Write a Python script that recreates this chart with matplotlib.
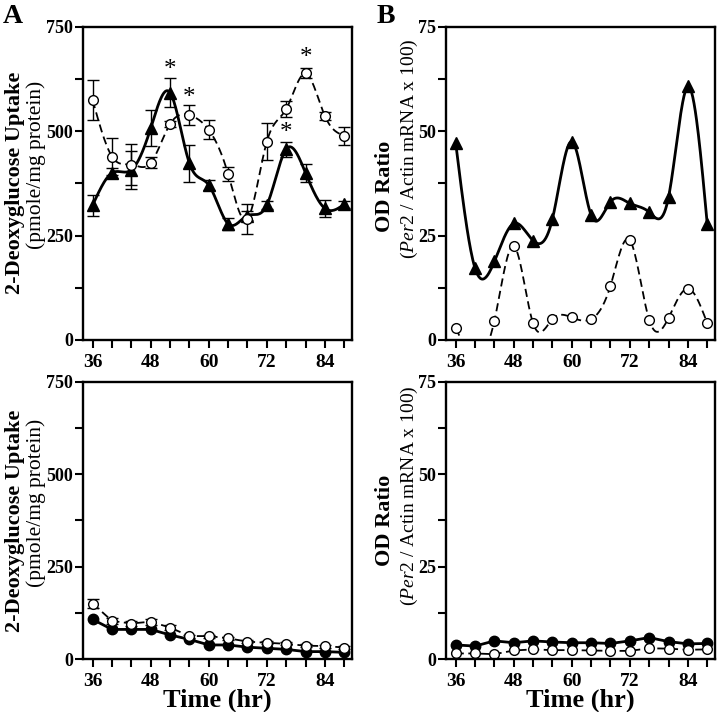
import numpy as np
import matplotlib
matplotlib.use("Agg")
import matplotlib.pyplot as plt

plt.rcParams["font.family"] = "Liberation Serif"
plt.rcParams["mathtext.fontset"] = "custom"
plt.rcParams["mathtext.rm"] = "Liberation Serif"
plt.rcParams["mathtext.it"] = "Liberation Serif:italic"

# ---- data ----
hours = [36, 40, 44, 48, 52, 56, 60, 64, 68, 72, 76, 80, 84, 88]

# panel A top: 2-DG uptake
a_tri = [323, 400, 407, 507, 592, 423, 371, 278, 298, 323, 457, 400, 315, 325]
a_tri_err = [25, 12, 45, 43, 35, 45, 12, 15, 10, 10, 18, 21, 21, 8]
a_circ = [574, 439, 420, 424, 517, 538, 503, 397, 290, 475, 553, 638, 536, 489]
a_circ_err = [48, 44, 50, 13, 8, 24, 23, 17, 36, 45, 18, 12, 10, 22]
star_x = [52, 56, 76, 80]
star_y = [647, 580, 496, 676]

# panel B top: Per2 / Actin OD ratio
b_tri = [47.2, 17.2, 18.8, 27.9, 23.8, 29.0, 47.5, 29.9, 33.1, 32.7, 30.6, 34.2, 60.7, 27.7]
b_circ = [2.8, -4.0, 4.6, 22.5, 4.0, 5.0, 5.4, 5.0, 13.0, 23.9, 4.8, 5.3, 12.3, 4.0]

# panel A bottom
c_fill = [107, 80, 80, 80, 65, 53, 38, 38, 32, 29, 26, 20, 20, 18]
c_open = [150, 103, 96, 101, 85, 62, 62, 56, 47, 44, 41, 36, 35, 31]
c_open_err = [12, 8, 8, 8, 6, 4, 4, 4, 4, 4, 4, 4, 4, 4]

# panel B bottom
d_fill = [3.8, 3.5, 4.9, 4.4, 4.9, 4.6, 4.4, 4.4, 4.2, 4.9, 5.8, 4.7, 4.1, 4.2]
d_open = [1.5, 1.5, 1.3, 2.3, 2.6, 2.4, 2.4, 2.3, 2.2, 2.2, 2.9, 2.8, 2.5, 2.6]


def spline(x, y, n=400):
    # natural cubic spline, only used to draw the smooth connecting line
    x = np.asarray(x, float)
    y = np.asarray(y, float)
    k = len(x)
    h = np.diff(x)
    A = np.zeros((k, k))
    r = np.zeros(k)
    A[0, 0] = A[-1, -1] = 1
    for i in range(1, k - 1):
        A[i, i - 1] = h[i - 1]
        A[i, i] = 2 * (h[i - 1] + h[i])
        A[i, i + 1] = h[i]
        r[i] = 6 * ((y[i + 1] - y[i]) / h[i] - (y[i] - y[i - 1]) / h[i - 1])
    M = np.linalg.solve(A, r)
    xs = np.linspace(x[0], x[-1], n)
    j = np.clip(np.searchsorted(x, xs) - 1, 0, k - 2)
    t0 = x[j + 1] - xs
    t1 = xs - x[j]
    hj = h[j]
    ys = (M[j] * t0**3 + M[j + 1] * t1**3) / (6 * hj) \
        + (y[j] / hj - M[j] * hj / 6) * t0 + (y[j + 1] / hj - M[j + 1] * hj / 6) * t1
    return xs, ys


fig = plt.figure(figsize=(7.2, 7.12), dpi=100)


def px_axes(l, t, r, b):
    return fig.add_axes([l / 720, 1 - b / 712, (r - l) / 720, (b - t) / 712])


axA = px_axes(83, 26.7, 352, 340)
axB = px_axes(446, 26.7, 715, 340)
axC = px_axes(83, 381.7, 352, 659)
axD = px_axes(446, 381.7, 715, 659)


def style(ax, ymax):
    ax.set_xlim(34, 89.6)
    ax.set_ylim(0, ymax)
    xt = list(range(36, 89, 4))
    ax.set_xticks(xt)
    ax.set_xticklabels([str(t) if (t - 36) % 12 == 0 else "" for t in xt],
                       fontsize=14, fontweight="bold")
    yt = np.linspace(0, ymax, 7)
    ax.set_yticks(yt)
    ax.set_yticklabels([f"{v:g}" if i % 2 == 0 else "" for i, v in enumerate(yt)],
                       fontsize=13, fontweight="bold")
    for s in ax.spines.values():
        s.set_linewidth(1.7)
    ax.tick_params(axis="both", length=6, width=1.5, direction="out")
    ax.tick_params(axis="y", pad=1)
    ax.tick_params(axis="x", pad=4)


for ax, ym in [(axA, 750), (axB, 75), (axC, 750), (axD, 75)]:
    style(ax, ym)

dash = (0, (4.5, 2.5))

# ---- A top ----
xs, ys = spline(hours, a_tri)
axA.plot(xs, ys, color="black", lw=2)
xs, ys = spline(hours, a_circ)
axA.plot(xs, ys, color="black", lw=1.3, linestyle=dash)
axA.errorbar(hours, a_tri, yerr=a_tri_err, fmt="^", color="black", ms=8,
             elinewidth=1, capsize=4, capthick=1, zorder=3)
axA.errorbar(hours, a_circ, yerr=a_circ_err, fmt="o", color="black", mfc="white",
             mew=1, ms=7, elinewidth=1, capsize=4, capthick=1, zorder=4)
for sx, sy in zip(star_x, star_y):
    axA.text(sx, sy, "*", ha="center", va="center", fontsize=18)

# ---- B top ----
xs, ys = spline(hours, b_tri)
axB.plot(xs, ys, color="black", lw=2)
xs, ys = spline(hours, b_circ)
axB.plot(xs, ys, color="black", lw=1.3, linestyle=dash)
axB.plot(hours, b_tri, "^", color="black", ms=8)
axB.plot(hours, b_circ, "o", color="black", mfc="white", mew=1, ms=7)

# ---- A bottom ----
axC.plot(hours, c_fill, "-o", color="black", lw=2, ms=7.5)
axC.errorbar(hours, c_open, yerr=c_open_err, fmt="o", linestyle=dash, color="black",
             mfc="white", mew=1, ms=7, lw=1.3, elinewidth=1, capsize=4, capthick=1)

# ---- B bottom ----
axD.plot(hours, d_fill, "-o", color="black", lw=2, ms=7.5)
axD.plot(hours, d_open, "o", linestyle=dash, color="black", mfc="white",
         mew=1, ms=7, lw=1.3)

axC.set_xlabel("Time (hr)", fontsize=19, fontweight="bold", labelpad=-1)
axD.set_xlabel("Time (hr)", fontsize=19, fontweight="bold", labelpad=-1)


def ftext(x, y, s, **kw):
    fig.text(x / 720, 1 - y / 712, s, **kw)


for yc, ys2 in [(183, 165), (521, 503)]:
    ftext(15, yc, "2-Deoxyglucose Uptake", rotation=90, ha="center", va="center",
          fontsize=16, fontweight="bold")
    ftext(36, ys2, "(pmole/mg protein)", rotation=90, ha="center", va="center",
          fontsize=15.5)
for yc, ys2 in [(186, 149), (520, 496)]:
    ftext(385, yc, "OD Ratio", rotation=90, ha="center", va="center",
          fontsize=16, fontweight="bold")
    ftext(409, ys2, r"($\mathit{Per2}$ / Actin mRNA x 100)", rotation=90,
          ha="center", va="center", fontsize=14)

ftext(3, 23, "A", fontsize=20, fontweight="bold", va="baseline")
ftext(377, 23, "B", fontsize=20, fontweight="bold", va="baseline")

fig.savefig("out.png", dpi=100)
